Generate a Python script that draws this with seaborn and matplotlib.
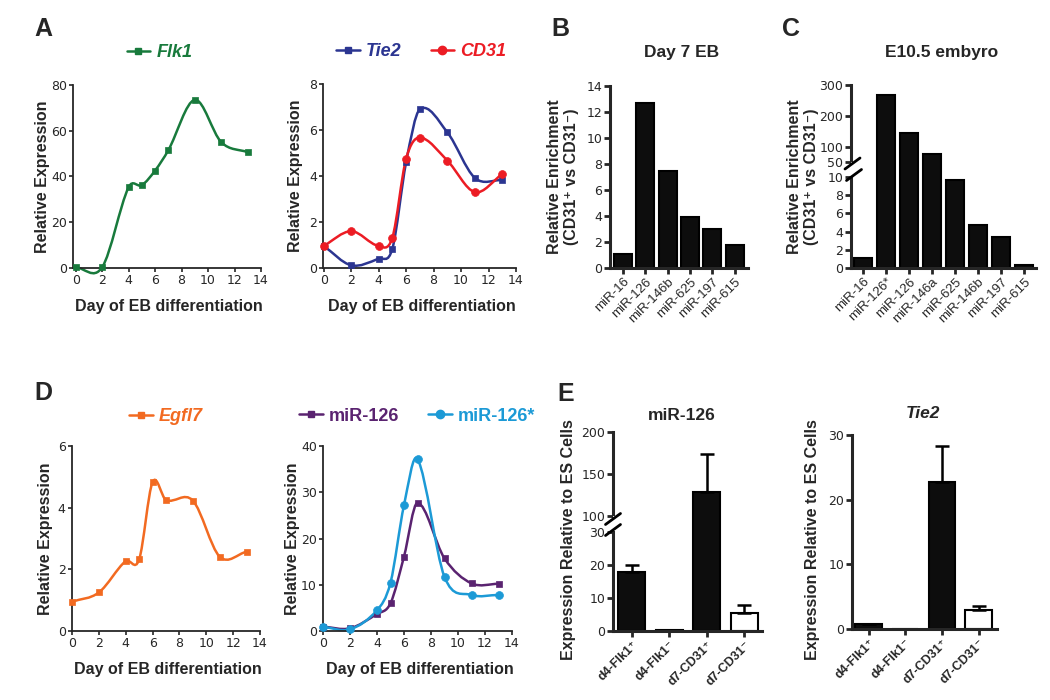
import numpy as np
import seaborn as sns
import matplotlib
matplotlib.use('agg')
import matplotlib.pyplot as plt
from matplotlib.path import Path
from matplotlib.patches import PathPatch
from matplotlib.lines import Line2D

sns.set_style('ticks')
plt.rcParams['font.family'] = ['Liberation Sans', 'DejaVu Sans']

# ---- data ----
days = [0, 2, 4, 5, 6, 7, 9, 11, 13]
flk1 = [0.3, 0.3, 35.3, 36.2, 42.6, 51.5, 73.5, 55.0, 50.6]
tie2 = [0.96, 0.12, 0.41, 0.84, 4.6, 6.9, 5.9, 3.92, 3.82]
cd31 = [0.96, 1.6, 0.96, 1.32, 4.75, 5.67, 4.67, 3.3, 4.08]
egfl7 = [0.95, 1.25, 2.27, 2.32, 4.83, 4.25, 4.23, 2.41, 2.57]
mir126 = [0.94, 0.58, 3.7, 6.0, 16.1, 27.7, 15.7, 10.3, 10.2]
mir126s = [0.9, 0.36, 4.5, 10.45, 27.2, 37.2, 11.7, 7.8, 7.8]

eb_mirs = ['miR-16', 'miR-126', 'miR-146b', 'miR-625', 'miR-197', 'miR-615']
eb_enrich = [1.05, 12.7, 7.5, 3.93, 3.0, 1.75]

emb_mirs = ['miR-16', 'miR-126*', 'miR-126', 'miR-146a', 'miR-625',
            'miR-146b', 'miR-197', 'miR-615']
emb_enrich = [1.12, 268.5, 143.5, 75.0, 9.7, 4.7, 3.36, 0.37]

cell_groups = ['d4-Flk1\u207a', 'd4-Flk1\u207b', 'd7-CD31\u207a', 'd7-CD31\u207b']
mir126_cells = [17.9, 0.2, 128.9, 5.6]
mir126_err = [2.0, 0.0, 44.5, 2.25]
tie2_cells = [0.77, 0.05, 22.7, 3.0]
tie2_err = [0.0, 0.0, 5.6, 0.6]

GREEN, NAVY, RED = '#187a3c', '#2b3591', '#ec1c24'
ORANGE, PURPLE, SKY = '#f26a21', '#5a2370', '#1c9ad6'

W, H = 1050, 700
fig = plt.figure(figsize=(10.5, 7), dpi=100)


def add_ax(x0, y0, x1, y1):
    return fig.add_axes([x0 / W, 1 - y1 / H, (x1 - x0) / W, (y1 - y0) / H])


def ftext(x, y, s, **kw):
    fig.text(x / W, 1 - y / H, s, **kw)


def slash(cx, cy):
    fig.add_artist(Line2D([(cx - 7.5) / W, (cx + 7.5) / W],
                          [1 - (cy + 5.5) / H, 1 - (cy - 5.5) / H],
                          color='black', lw=2, transform=fig.transFigure))


def smooth_line(ax, xs, ys, color):
    xs = np.asarray(xs, float)
    ys = np.asarray(ys, float)
    m = np.empty(len(xs))
    m[1:-1] = (ys[2:] - ys[:-2]) / (xs[2:] - xs[:-2])
    m[0] = (ys[1] - ys[0]) / (xs[1] - xs[0])
    m[-1] = (ys[-1] - ys[-2]) / (xs[-1] - xs[-2])
    verts = [(xs[0], ys[0])]
    codes = [Path.MOVETO]
    for i in range(len(xs) - 1):
        h = xs[i + 1] - xs[i]
        verts += [(xs[i] + h / 3, ys[i] + m[i] * h / 3),
                  (xs[i + 1] - h / 3, ys[i + 1] - m[i + 1] * h / 3),
                  (xs[i + 1], ys[i + 1])]
        codes += [Path.CURVE4] * 3
    ax.add_patch(PathPatch(Path(verts, codes), fill=False, edgecolor=color,
                           lw=1.8, clip_on=False, zorder=2))


def num_ticks(ax, axis, ticks, size=9):
    if axis == 'y':
        ax.set_yticks(ticks)
        ax.set_yticklabels([str(t) for t in ticks], fontfamily='DejaVu Sans', fontsize=size)
    else:
        ax.set_xticks(ticks)
        ax.set_xticklabels([str(t) for t in ticks], fontfamily='DejaVu Sans', fontsize=size)


def line_panel(rect, series, ylim, yticks, xlim, ylab_x, leg_x, leg_y, italic=True):
    ax = add_ax(*rect)
    handles = []
    for vals, color, marker, size, name in series:
        sns.scatterplot(x=days, y=vals, marker=marker, s=size, color=color,
                        edgecolor=color, linewidth=0.5, zorder=3, clip_on=False, ax=ax)
        smooth_line(ax, days, vals, color)
        handles.append(Line2D([], [], color=color, lw=1.8, marker=marker,
                              ms=5 if marker == 's' else 6, label=name))
    ax.set_xlim(*xlim)
    ax.set_ylim(*ylim)
    num_ticks(ax, 'x', list(range(0, 15, 2)))
    num_ticks(ax, 'y', yticks)
    sns.despine(ax=ax)
    for s in ['left', 'bottom']:
        ax.spines[s].set_linewidth(1.3)
    ax.tick_params(length=3, width=1.2, pad=1.5)
    ax.set_xlabel('Day of EB differentiation', fontsize=11.5, fontweight='bold')
    ax.set_ylabel('Relative Expression', fontsize=11.5, fontweight='bold')
    ax.xaxis.set_label_coords(0.51, -0.17)
    ax.yaxis.set_label_coords(ylab_x, 0.5)
    ax.legend(handles=handles, loc='center', bbox_to_anchor=(leg_x, leg_y),
              ncol=len(handles), frameon=False, handlelength=1.3, handletextpad=0.35,
              columnspacing=1.6, labelcolor='linecolor',
              prop=dict(size=13, weight='bold', style='italic' if italic else 'normal'))
    return ax


def bar_axes(ax, labels, vals, colors, xlim, ylim, yticks, show_x=True, bold_x=False,
             xsize=9.5, err=None, spine_top=None):
    sns.barplot(x=labels, y=vals, hue=labels, palette=colors, legend=False,
                width=0.72 if err is not None else 0.8, edgecolor='black',
                linewidth=1.5, errorbar=None, ax=ax)
    if err is not None:
        ax.errorbar(range(len(labels)), vals, yerr=[np.zeros(len(err)), err], fmt='none',
                    ecolor='black', elinewidth=1.8, capsize=5, capthick=1.8, zorder=1)
    ax.set_xlim(*xlim)
    ax.set_ylim(*ylim)
    num_ticks(ax, 'y', yticks)
    sns.despine(ax=ax)
    ax.spines['left'].set_linewidth(2.2)
    ax.spines['bottom'].set_linewidth(2.2)
    if spine_top is not None:
        ax.spines['left'].set_bounds(ylim[0], spine_top)
    ax.tick_params(length=4, width=2, pad=1.5)
    if show_x:
        ax.set_xticks(range(len(labels)))
        ax.set_xticklabels(labels, rotation=45, ha='right', rotation_mode='anchor',
                           fontsize=xsize, fontweight='bold' if bold_x else 'normal')
    else:
        ax.spines['bottom'].set_visible(False)
        ax.tick_params(axis='x', bottom=False, labelbottom=False)
    ax.set_xlabel('')
    ax.set_ylabel('')


# ---- A ----
line_panel((73, 85, 261, 268), [(flk1, GREEN, 's', 22, 'Flk1')],
           (0, 80), [0, 20, 40, 60, 80], (-0.2, 14), -0.122, 0.46, 1.175)
line_panel((323, 84, 516, 268), [(tie2, NAVY, 's', 22, 'Tie2'), (cd31, RED, 'o', 32, 'CD31')],
           (0, 8), [0, 2, 4, 6, 8], (-0.05, 14), -0.104, 0.51, 1.174)

# ---- D ----
line_panel((72, 446, 260, 631), [(egfl7, ORANGE, 's', 22, 'Egfl7')],
           (0, 6), [0, 2, 4, 6], (0, 14), -0.101, 0.5, 1.157)
line_panel((323, 446, 512, 631), [(mir126, PURPLE, 's', 22, 'miR-126'),
                                  (mir126s, SKY, 'o', 32, 'miR-126*')],
           (0, 40), [0, 10, 20, 30, 40], (0, 14), -0.122, 0.5, 1.162, italic=False)

# ---- B ----
axb = add_ax(610, 86, 748, 268)
bar_axes(axb, eb_mirs, eb_enrich, ['#0d0d0d'] * 6, (-0.57, 5.59), (0, 14),
         [0, 2, 4, 6, 8, 10, 12, 14])
ftext(682, 53, 'Day 7 EB', fontsize=12.5, fontweight='bold', ha='center', va='center')
ftext(563, 177, 'Relative Enrichment\n(CD31\u207a vs CD31\u207b)', fontsize=11.5,
      fontweight='bold', rotation=90, ha='center', va='center', multialignment='center')

# ---- C (broken axis) ----
axc_top = add_ax(851, 85, 1036, 162)
bar_axes(axc_top, emb_mirs, emb_enrich, ['#0d0d0d'] * 8, (-0.52, 7.52), (50, 300),
         [50, 100, 200, 300], show_x=False)
# lower part reaches up to the upper part so the tall bars run through the gap
axc_bot = add_ax(851, 162, 1036, 268)
bar_axes(axc_bot, emb_mirs, emb_enrich, ['#0d0d0d'] * 8, (-0.52, 7.52),
         (0, 10 * 106 / 91), [0, 2, 4, 6, 8, 10], spine_top=10)
slash(852.5, 163.5)
slash(854, 175)
ftext(942, 53, 'E10.5 embyro', fontsize=12.5, fontweight='bold', ha='center', va='center')
ftext(803, 177, 'Relative Enrichment\n(CD31\u207a vs CD31\u207b)', fontsize=11.5,
      fontweight='bold', rotation=90, ha='center', va='center', multialignment='center')

# ---- E ----
e_colors = ['#0d0d0d', '#0d0d0d', '#0d0d0d', 'white']
axe_top = add_ax(613, 432, 762, 516)
bar_axes(axe_top, cell_groups, mir126_cells, e_colors, (-0.5, 3.47), (100, 200),
         [100, 150, 200], show_x=False, err=mir126_err)
axe_bot = add_ax(613, 516, 762, 631)
bar_axes(axe_bot, cell_groups, mir126_cells, e_colors, (-0.5, 3.47), (0, 30 * 115 / 99),
         [0, 10, 20, 30], bold_x=True, xsize=9, err=mir126_err, spine_top=30)
slash(613, 519)
slash(613, 530)
ftext(682, 415, 'miR-126', fontsize=12.5, fontweight='bold', ha='center', va='center')
ftext(568, 540, 'Expression Relative to ES Cells', fontsize=11.5, fontweight='bold',
      rotation=90, ha='center', va='center')

axe2 = add_ax(852, 435, 997, 629)
bar_axes(axe2, cell_groups, tie2_cells, e_colors, (-0.45, 3.5), (0, 30),
         [0, 10, 20, 30], bold_x=True, xsize=9, err=tie2_err)
ftext(923, 413, 'Tie2', fontsize=12.5, fontweight='bold', fontstyle='italic',
      ha='center', va='center')
ftext(812, 540, 'Expression Relative to ES Cells', fontsize=11.5, fontweight='bold',
      rotation=90, ha='center', va='center')

# ---- panel letters ----
for letter, x, y in [('A', 43, 29), ('B', 560, 29), ('C', 791, 29), ('D', 43, 393), ('E', 566, 394)]:
    ftext(x, y, letter, fontsize=18, fontweight='bold', ha='center', va='center')

fig.savefig('out.png', dpi=100)
